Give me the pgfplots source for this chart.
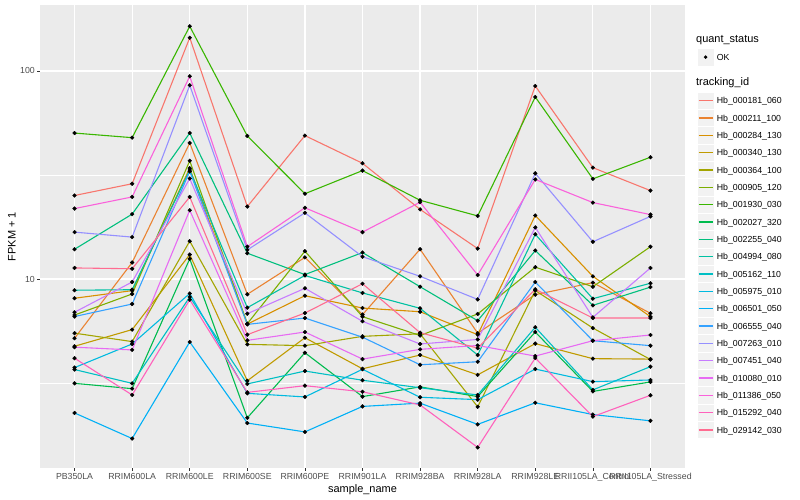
\documentclass[border=0pt]{standalone}
\usepackage{fontspec}
\setmainfont{Liberation Sans}
\usepackage{pgfplots}
\usepackage{pgfplotstable}
\pgfplotsset{compat=1.18}

% ggplot hue palette, 20 levels
\definecolor{gg1}{HTML}{F8766D}
\definecolor{gg2}{HTML}{EA8331}
\definecolor{gg3}{HTML}{D89000}
\definecolor{gg4}{HTML}{C09B00}
\definecolor{gg5}{HTML}{A3A500}
\definecolor{gg6}{HTML}{7CAE00}
\definecolor{gg7}{HTML}{39B600}
\definecolor{gg8}{HTML}{00BB4E}
\definecolor{gg9}{HTML}{00BF7D}
\definecolor{gg10}{HTML}{00C1A3}
\definecolor{gg11}{HTML}{00BFC4}
\definecolor{gg12}{HTML}{00BAE0}
\definecolor{gg13}{HTML}{00B0F6}
\definecolor{gg14}{HTML}{35A2FF}
\definecolor{gg15}{HTML}{9590FF}
\definecolor{gg16}{HTML}{C77CFF}
\definecolor{gg17}{HTML}{E76BF3}
\definecolor{gg18}{HTML}{FA62DB}
\definecolor{gg19}{HTML}{FF62BC}
\definecolor{gg20}{HTML}{FF6C91}
\definecolor{panel}{HTML}{EBEBEB}
\definecolor{keybg}{HTML}{F2F2F2}
\definecolor{gray30}{HTML}{4D4D4D}
\definecolor{gray20}{HTML}{333333}

% FPKM + 1, one column per tracking_id (legend order), one row per sample
\pgfplotstableread{
x  s1    s2    s3    s4    s5    s6    s7    s8    s9    s10   s11   s12   s13   s14   s15   s16   s17   s18   s19   s20
0  25.2  5.19  8.08  4.75  5.49  6.71  50.3  3.15  13.9  8.83  3.67  3.75  2.27  6.60  16.8  6.92  4.70  21.8  4.16  11.3
1  28.7  12.0  8.79  5.71  5.00  8.47  47.8  2.97  20.5  8.88  3.15  4.87  1.71  7.58  15.9  9.67  4.56  24.8  2.77  11.2
2  144.5 45.1  34.1  13.1  15.2  37.0  164   12.5  50.3  33.4  8.20  8.52  4.98  32.9  85.4  30.4  21.4  94.3  7.95  24.8
3  22.3  8.44  6.07  3.24  4.85  6.10  48.7  2.15  13.3  7.28  3.13  2.82  2.03  6.05  13.8  6.81  5.07  14.3  2.85  5.40
4  48.9  12.7  8.31  5.22  4.78  13.6  25.7  4.42  10.5  10.4  3.61  2.71  1.84  6.49  20.8  9.02  5.56  22.0  3.07  6.86
5  36.0  6.74  7.25  3.70  5.30  6.59  33.2  2.72  13.4  8.57  3.26  3.68  2.44  5.25  12.8  6.26  4.12  16.8  2.87  9.49
6  21.6  13.9  6.96  4.31  5.45  5.35  23.9  3.03  9.18  7.23  3.00  2.70  2.53  3.87  10.3  4.87  4.59  23.4  2.48  5.52
7  14.0  5.49  5.40  3.46  2.43  6.79  20.1  2.72  6.30  4.31  2.77  2.63  2.00  4.00  7.98  5.12  4.79  10.45 1.55  4.65
8  84.7  8.41  20.2  4.89  8.80  11.4  75.0  5.56  13.7  16.4  5.86  3.69  2.54  9.67  32.2  17.7  4.26  30.1  4.17  8.92
9  34.3  9.60  10.3  4.14  5.81  9.18  30.3  2.88  7.47  8.04  2.93  3.21  2.23  5.05  15.1  6.54  5.05  23.3  2.18  6.49
10 26.6  6.84  6.59  4.12  4.10  14.3  38.5  3.20  9.14  9.54  3.79  3.27  2.08  4.78  20.0  11.3  5.38  20.4  2.76  6.49
}\fpkm

\begin{document}
\begin{tikzpicture}
\path[use as bounding box] (0,0) rectangle (800bp,500bp);

\begin{axis}[
  at={(40bp,32bp)}, anchor=south west,
  scale only axis, width=645bp, height=463bp,
  xmin=-0.6, xmax=10.6,
  ymode=log, ymin=1.234, ymax=207.6,
  axis background/.style={fill=panel},
  axis line style={draw=none},
  xtick={0,...,10},
  xticklabels={PB350LA,RRIM600LA,RRIM600LE,RRIM600SE,RRIM600PE,RRIM901LA,RRIM928BA,RRIM928LA,RRIM928LE,RRII105LA\_Control,RRII105LA\_Stressed},
  ytick={10,100}, yticklabels={10,100},
  minor ytick={3.16228,31.6228},
  xmajorgrids, ymajorgrids, yminorgrids,
  major grid style={white, line width=1.2pt},
  minor grid style={white, line width=0.6pt},
  tick pos=left, tick align=outside,
  major tick length=2.75bp, minor tick length=0pt,
  tick style={gray20, line width=0.5pt},
  ticklabel style={font=\fontsize{8.8}{10}\selectfont, text=gray30, inner sep=0pt},
  xticklabel style={anchor=north, text height=6.3bp, text depth=1.8bp, yshift=-2.2bp},
  yticklabel style={anchor=east, xshift=-2.2bp},
]
  % lines first, in legend order, then the points on top
  \pgfplotsinvokeforeach{1,...,20}{
    \addplot[color=gg#1, line width=1.1pt, no markers] table[x=x, y=s#1]{\fpkm};
  }
  \pgfplotsinvokeforeach{1,...,20}{
    \addplot[only marks, mark=*, mark size=1.9pt, black] table[x=x, y=s#1]{\fpkm};
  }
\end{axis}

% axis titles
\node[anchor=base, font=\fontsize{11}{13}\selectfont] at (362.5bp,8bp) {sample\_name};
\node[anchor=base, rotate=90, font=\fontsize{11}{13}\selectfont] at (15.5bp,263.5bp) {FPKM + 1};

% legend
\begin{scope}[x=1bp, y=1bp]
  \node[anchor=base west, inner sep=0pt, font=\fontsize{11}{13}\selectfont] at (696,457.2) {quant\_status};
  \path[fill=keybg, draw=white, line width=0.5pt] (697,434.2) rectangle (714.28,451.5);
  \fill[black] (705.64,442.9) circle (1.9);
  \node[anchor=base west, inner sep=0pt, font=\fontsize{8.8}{10}\selectfont] at (716.7,439.8) {OK};
  \node[anchor=base west, inner sep=0pt, font=\fontsize{11}{13}\selectfont] at (696,414) {tracking\_id};
  \foreach \n/\lab in {1/Hb\_000181\_060, 2/Hb\_000211\_100, 3/Hb\_000284\_130, 4/Hb\_000340\_130,
      5/Hb\_000364\_100, 6/Hb\_000905\_120, 7/Hb\_001930\_030, 8/Hb\_002027\_320,
      9/Hb\_002255\_040, 10/Hb\_004994\_080, 11/Hb\_005162\_110, 12/Hb\_005975\_010,
      13/Hb\_006501\_050, 14/Hb\_006555\_040, 15/Hb\_007263\_010, 16/Hb\_007451\_040,
      17/Hb\_010080\_010, 18/Hb\_011386\_050, 19/Hb\_015292\_040, 20/Hb\_029142\_030} {
    \pgfmathsetmacro\yc{500-100.7-17.33*(\n-1)}
    \path[fill=keybg, draw=white, line width=0.5pt] (697,\yc-8.64) rectangle (714.28,\yc+8.64);
    \draw[color=gg\n, line width=1.1pt] (698.7,\yc) -- (712.6,\yc);
    \node[anchor=base west, inner sep=0pt, font=\fontsize{8.8}{10}\selectfont] at (716.7,\yc-3.15) {\lab};
  }
\end{scope}
\end{tikzpicture}
\end{document}
